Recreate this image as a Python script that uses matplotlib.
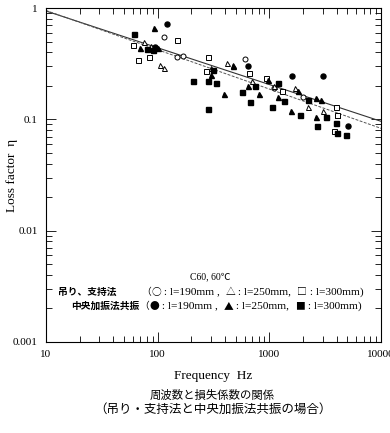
import matplotlib
matplotlib.use("Agg")
import matplotlib.pyplot as plt
from matplotlib.ticker import LogLocator, NullFormatter, FixedLocator, FixedFormatter

# data (frequency Hz, loss factor)
# free-free support method: open markers
oc_f = [115, 150, 167, 610, 2000, 1100]
oc_eta = [0.55, 0.36, 0.37, 0.35, 0.16, 0.19]
ot_f = [76, 88, 104, 115, 420, 470, 300, 700, 1100, 1700, 3000, 4000, 2200]
ot_eta = [0.49, 0.46, 0.31, 0.29, 0.32, 0.31, 0.29, 0.22, 0.20, 0.19, 0.12, 0.11, 0.13]
os_f = [66, 83, 148, 283, 660, 935, 3950, 4000, 3800, 270, 1300, 60]
os_eta = [0.34, 0.36, 0.52, 0.36, 0.26, 0.235, 0.128, 0.11, 0.078, 0.27, 0.18, 0.47]
# centre-excitation resonance method: filled markers
fc_f = [120, 640, 1600, 3000, 5050, 95]
fc_eta = [0.72, 0.30, 0.245, 0.245, 0.088, 0.45]
ft_f = [92, 395, 470, 980, 800, 2600, 2900, 2600, 1550, 70, 100, 300, 650, 1200, 1800]
ft_eta = [0.66, 0.17, 0.30, 0.225, 0.17, 0.155, 0.148, 0.104, 0.12, 0.44, 0.44, 0.25, 0.20, 0.16, 0.18]
fs_f = [61, 205, 280, 565, 675, 1060, 1200, 2650, 3950, 4900, 4000, 80, 90, 280, 330,
        750, 1900, 2200, 3200, 1350, 310]
fs_eta = [0.58, 0.22, 0.125, 0.175, 0.142, 0.128, 0.21, 0.088, 0.092, 0.073, 0.076, 0.43, 0.42,
          0.22, 0.21, 0.20, 0.11, 0.15, 0.105, 0.145, 0.28]

fit_f = [10, 10000]
fit_solid = [0.94, 0.096]
fit_dash = [0.95, 0.083]

y_ticks = [0.001, 0.01, 0.1, 1]
y_labels = ["0.001", "0.01", "0.1", "1"]
x_ticks = [10, 100, 1000, 10000]
x_labels = ["10", "100", "1000", "10000"]

SERIF = ["Liberation Serif", "Noto Sans CJK JP", "DejaVu Sans"]
JP = ["Noto Sans CJK JP", "DejaVu Sans"]

fig = plt.figure(figsize=(3.9, 4.33), dpi=100)
ax = fig.add_axes([0.118, 0.2102, 0.859, 0.7713])

ax.plot(fit_f, fit_solid, color="#333333", lw=0.8)
ax.plot(fit_f, fit_dash, color="#555555", lw=0.7, ls=(0, (3, 1.5)))

ms = 3.6
ax.plot(oc_f, oc_eta, "o", mfc="white", mec="black", mew=0.7, ms=ms, ls="none")
ax.plot(ot_f, ot_eta, "^", mfc="white", mec="black", mew=0.7, ms=ms, ls="none")
ax.plot(os_f, os_eta, "s", mfc="white", mec="black", mew=0.7, ms=ms, ls="none")
ax.plot(fc_f, fc_eta, "o", color="black", ms=ms, ls="none")
ax.plot(ft_f, ft_eta, "^", color="black", ms=ms, ls="none")
ax.plot(fs_f, fs_eta, "s", color="black", ms=ms, ls="none")

ax.set_xscale("log")
ax.set_yscale("log")
ax.set_xlim(10, 10000)
ax.set_ylim(0.001, 1)

ax.xaxis.set_major_locator(FixedLocator(x_ticks))
ax.xaxis.set_major_formatter(FixedFormatter(x_labels))
ax.yaxis.set_major_locator(FixedLocator(y_ticks))
ax.yaxis.set_major_formatter(FixedFormatter(y_labels))
ax.xaxis.set_minor_locator(LogLocator(base=10, subs=range(2, 10)))
ax.yaxis.set_minor_locator(LogLocator(base=10, subs=range(2, 10)))
ax.xaxis.set_minor_formatter(NullFormatter())
ax.yaxis.set_minor_formatter(NullFormatter())
ax.tick_params(which="both", direction="in", top=True, right=True, width=0.6)
ax.tick_params(which="major", length=7, labelsize=8, pad=6)
ax.tick_params(which="minor", length=4)
for lab in ax.get_xticklabels() + ax.get_yticklabels():
    lab.set_family(SERIF)
for s in ax.spines.values():
    s.set_linewidth(0.8)

ax.set_xlabel("Frequency  Hz", family=SERIF, fontsize=9.5, labelpad=8)
ax.set_ylabel("Loss factor  η", family=SERIF, fontsize=9.5)
ax.yaxis.set_label_coords(-0.084, 0.5)

# annotation block inside the plot
ax.text(0.49, 0.195, "C60, 60℃", transform=ax.transAxes, family=SERIF,
        fontsize=7, ha="center", va="center")


def legend_line(x, y, pieces):
    # write pieces one after another, symbols in the CJK font, the rest in serif
    prev = None
    for s, fam, size in pieces:
        if prev is None:
            prev = ax.text(x, y, s, transform=ax.transAxes, family=fam,
                           fontsize=size, ha="left", va="center")
        else:
            prev = ax.annotate(s, xy=(1, 0.5), xycoords=prev, family=fam,
                               fontsize=size, ha="left", va="center")


line1 = [("（", JP, 7), ("○", JP, 7), (" : l=190mm ,  ", SERIF, 8.2), ("△", JP, 7),
         (" : l=250mm,  ", SERIF, 8.2), ("□", JP, 7), (" : l=300mm)", SERIF, 8.2)]
line2 = [("（", JP, 7), ("●", JP, 7), (" : l=190mm ,  ", SERIF, 8.2), ("▲", JP, 7),
         (" : l=250mm,  ", SERIF, 8.2), ("■", JP, 7), (" : l=300mm)", SERIF, 8.2)]

ax.text(0.035, 0.150, "吊り、支持法", transform=ax.transAxes, family=JP,
        fontsize=7, weight="bold", ha="left", va="center")
legend_line(0.285, 0.150, line1)
ax.text(0.278, 0.108, "中央加振法共振", transform=ax.transAxes, family=JP,
        fontsize=7, weight="bold", ha="right", va="center")
legend_line(0.279, 0.108, line2)

fig.text(0.545, 0.088, "周波数と損失係数の関係", family=JP, fontsize=8.2,
         ha="center", va="center")
fig.text(0.545, 0.055, "（吊り・支持法と中央加振法共振の場合）", family=JP, fontsize=9,
         ha="center", va="center")

fig.savefig("out.png", dpi=100)
